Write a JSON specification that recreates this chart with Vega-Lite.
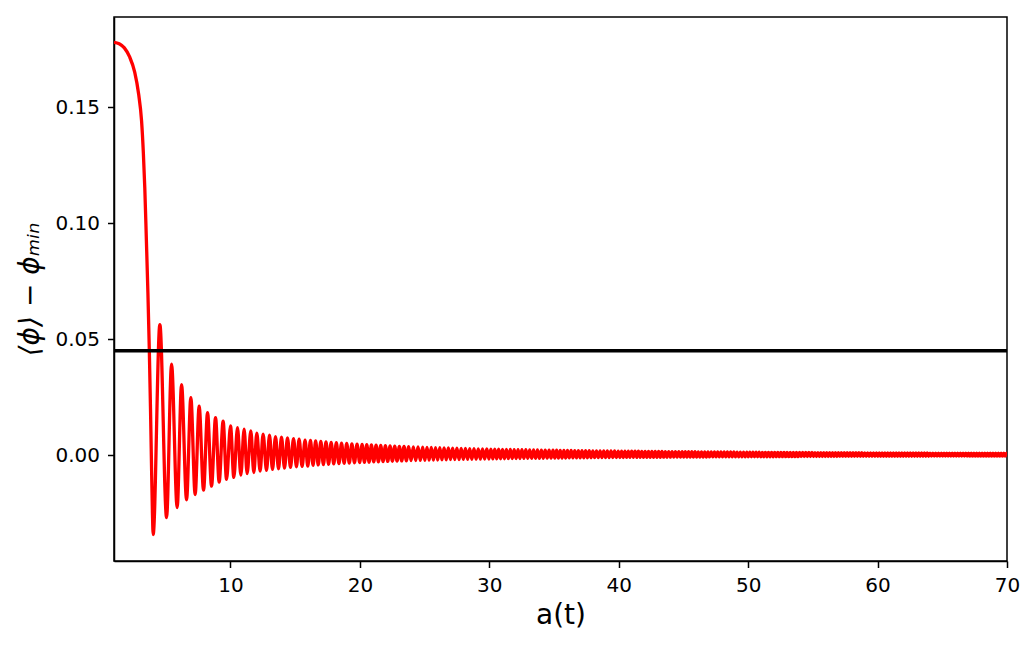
{
"$schema": "https://vega.github.io/schema/vega-lite/v6.json",
"width": 893, "height": 544,
"autosize": {"type": "none"},
"padding": {"left": 114, "top": 17, "right": 27, "bottom": 84},
"background": "white",
"config": {
  "font": "DejaVu Sans",
  "view": {"stroke": "black", "strokeWidth": 1.5},
  "axis": {"grid": false, "domainColor": "black", "domainWidth": 1.5, "tickColor": "black", "tickWidth": 1.5, "tickSize": 6.5,
           "labelColor": "black", "titleColor": "black", "labelFontSize": 20, "titleFontSize": 28, "titleFontWeight": "normal",
           "labelPadding": 8, "labelFlush": false, "labelOverlap": false, "labelFont": "DejaVu Sans", "titleFont": "DejaVu Sans"}
},
"layer": [
{
"data": {"values": [
{"a":1.0,"v":0.1779},{"a":1.4,"v":0.1773},{"a":1.8,"v":0.1755},{"a":2.2,"v":0.1717},{"a":2.6,"v":0.1650},{"a":2.9,"v":0.1557},
{"a":3.13,"v":0.1440},{"a":3.27,"v":0.130},{"a":3.38,"v":0.115},{"a":3.5,"v":0.093},{"a":3.62,"v":0.070},{"a":3.73,"v":0.045},
{"a":3.82,"v":0.020},{"a":3.9,"v":-0.005},{"a":3.97,"v":-0.025},
{"a":4.027,"v":-0.03418},{"a":4.544,"v":0.05629},{"a":5.062,"v":-0.02685},{"a":5.448,"v":0.03922},{"a":5.880,"v":-0.02254},
{"a":6.220,"v":0.03043},{"a":6.606,"v":-0.01922},{"a":6.938,"v":0.02483},{"a":7.270,"v":-0.01694},{"a":7.579,"v":0.02112},
{"a":7.919,"v":-0.01509},{"a":8.228,"v":0.01836},{"a":8.537,"v":-0.01336},{"a":8.846,"v":0.01621},{"a":9.124,"v":-0.01164},
{"a":9.432,"v":0.01466},{"a":9.695,"v":-0.01047},{"a":10.004,"v":0.01263},{"a":10.259,"v":-0.00961},{"a":10.544,"v":0.01190},
{"a":10.799,"v":-0.00862},{"a":11.054,"v":0.01121},{"a":11.286,"v":-0.00789},{"a":11.571,"v":0.01047},{"a":11.803,"v":-0.00746},
{"a":12.035,"v":0.00948},{"a":12.290,"v":-0.00690},{"a":12.521,"v":0.00905},{"a":12.784,"v":-0.00659},{"a":13.015,"v":0.00862},
{"a":13.247,"v":-0.00616},{"a":13.479,"v":0.00802},{"a":13.710,"v":-0.00586},{"a":13.942,"v":0.00776},{"a":14.174,"v":-0.00560},
{"a":14.405,"v":0.00746},{"a":14.637,"v":-0.00530},{"a":14.869,"v":0.00716},{"a":15.100,"v":-0.00500},{"a":15.301,"v":0.00690},
{"a":15.533,"v":-0.00487},{"a":15.764,"v":0.00647},{"a":15.973,"v":-0.00474},
{"a":16.18,"v":0.00632},{"a":16.38,"v":-0.00438},{"a":16.58,"v":0.00611},{"a":16.78,"v":-0.00422},{"a":16.98,"v":0.0059},
{"a":17.18,"v":-0.00407},{"a":17.38,"v":0.00572},{"a":17.58,"v":-0.00392},{"a":17.78,"v":0.00553},{"a":17.98,"v":-0.00378},
{"a":18.18,"v":0.00536},{"a":18.38,"v":-0.00365},{"a":18.58,"v":0.0052},{"a":18.78,"v":-0.00352},{"a":18.98,"v":0.00504},
{"a":19.18,"v":-0.0034},{"a":19.38,"v":0.00489},{"a":19.58,"v":-0.00328},{"a":19.78,"v":0.00475},{"a":19.98,"v":-0.00317},
{"a":20.17,"v":0.00462},{"a":20.35,"v":-0.00309},{"a":20.53,"v":0.0045},{"a":20.71,"v":-0.00301},{"a":20.89,"v":0.00439},
{"a":21.07,"v":-0.00292},{"a":21.25,"v":0.00429},{"a":21.43,"v":-0.00285},{"a":21.61,"v":0.00419},{"a":21.79,"v":-0.00277},
{"a":21.97,"v":0.00409},{"a":22.15,"v":-0.00269},{"a":22.33,"v":0.004},{"a":22.51,"v":-0.00262},{"a":22.69,"v":0.00391},
{"a":22.87,"v":-0.00255},{"a":23.05,"v":0.00382},{"a":23.23,"v":-0.00249},{"a":23.41,"v":0.00374},{"a":23.59,"v":-0.00243},
{"a":23.77,"v":0.00367},{"a":23.95,"v":-0.00237},{"a":24.13,"v":0.00359},{"a":24.31,"v":-0.00231},{"a":24.49,"v":0.00352},
{"a":24.67,"v":-0.00226},{"a":24.85,"v":0.00344},
{"a":25.02,"v":-0.00221},{"a":25.185,"v":0.00338},{"a":25.35,"v":-0.00216},{"a":25.515,"v":0.00332},{"a":25.68,"v":-0.00211},
{"a":25.845,"v":0.00326},{"a":26.01,"v":-0.00207},{"a":26.175,"v":0.0032},{"a":26.34,"v":-0.00203},{"a":26.505,"v":0.00314},
{"a":26.67,"v":-0.00198},{"a":26.835,"v":0.00309},{"a":27.0,"v":-0.00194},{"a":27.165,"v":0.00304},{"a":27.33,"v":-0.0019},
{"a":27.495,"v":0.00299},{"a":27.66,"v":-0.00187},{"a":27.825,"v":0.00294},{"a":27.99,"v":-0.00183},{"a":28.155,"v":0.00289},
{"a":28.32,"v":-0.0018},{"a":28.485,"v":0.00284},{"a":28.65,"v":-0.00177},{"a":28.815,"v":0.0028},{"a":28.98,"v":-0.00173},
{"a":29.145,"v":0.00275},{"a":29.31,"v":-0.0017},{"a":29.475,"v":0.00271},{"a":29.64,"v":-0.00167},{"a":29.805,"v":0.00267},
{"a":29.97,"v":-0.00164},
{"a":30.12,"v":0.00263},{"a":30.27,"v":-0.00162},{"a":30.42,"v":0.0026},{"a":30.57,"v":-0.00159},{"a":30.72,"v":0.00256},
{"a":30.87,"v":-0.00157},{"a":31.02,"v":0.00252},{"a":31.17,"v":-0.00154},{"a":31.32,"v":0.00249},{"a":31.47,"v":-0.00152},
{"a":31.62,"v":0.00245},{"a":31.77,"v":-0.00149},{"a":31.92,"v":0.00242},{"a":32.07,"v":-0.00147},{"a":32.22,"v":0.00239},
{"a":32.37,"v":-0.00144},{"a":32.52,"v":0.00236},{"a":32.67,"v":-0.00142},{"a":32.82,"v":0.00233},{"a":32.97,"v":-0.0014},
{"a":33.12,"v":0.0023},{"a":33.27,"v":-0.00138},{"a":33.42,"v":0.00227},{"a":33.57,"v":-0.00136},{"a":33.72,"v":0.00224},
{"a":33.87,"v":-0.00134},{"a":34.02,"v":0.00221},{"a":34.17,"v":-0.00132},{"a":34.32,"v":0.00218},{"a":34.47,"v":-0.0013},
{"a":34.62,"v":0.00216},{"a":34.77,"v":-0.00129},{"a":34.92,"v":0.00213},
{"a":35.06,"v":-0.00127},{"a":35.2,"v":0.00211},{"a":35.34,"v":-0.00125},{"a":35.48,"v":0.00209},{"a":35.62,"v":-0.00123},
{"a":35.76,"v":0.00207},{"a":35.9,"v":-0.00122},{"a":36.04,"v":0.00205},{"a":36.18,"v":-0.0012},{"a":36.32,"v":0.00202},
{"a":36.46,"v":-0.00119},{"a":36.6,"v":0.002},{"a":36.74,"v":-0.00117},{"a":36.88,"v":0.00198},{"a":37.02,"v":-0.00116},
{"a":37.16,"v":0.00196},{"a":37.3,"v":-0.00115},{"a":37.44,"v":0.00194},{"a":37.58,"v":-0.00113},{"a":37.72,"v":0.00191},
{"a":37.86,"v":-0.00112},{"a":38.0,"v":0.00189},{"a":38.14,"v":-0.0011},{"a":38.28,"v":0.00187},{"a":38.42,"v":-0.00109},
{"a":38.56,"v":0.00186},{"a":38.7,"v":-0.00107},{"a":38.84,"v":0.00184},{"a":38.98,"v":-0.00106},{"a":39.12,"v":0.00182},
{"a":39.26,"v":-0.00105},{"a":39.4,"v":0.00181},{"a":39.54,"v":-0.00103},{"a":39.68,"v":0.00179},{"a":39.82,"v":-0.00102},
{"a":39.96,"v":0.00177},
{"a":40.09,"v":-0.001},{"a":40.22,"v":0.00176},{"a":40.35,"v":-0.001},{"a":40.48,"v":0.00175},{"a":40.61,"v":-0.00099},
{"a":40.74,"v":0.00173},{"a":40.87,"v":-0.00098},{"a":41.0,"v":0.00172},{"a":41.13,"v":-0.00097},{"a":41.26,"v":0.0017},
{"a":41.39,"v":-0.00096},{"a":41.52,"v":0.00168},{"a":41.65,"v":-0.00095},{"a":41.78,"v":0.00167},{"a":41.91,"v":-0.00094},
{"a":42.04,"v":0.00165},{"a":42.17,"v":-0.00093},{"a":42.3,"v":0.00164},{"a":42.43,"v":-0.00092},{"a":42.56,"v":0.00162},
{"a":42.69,"v":-0.00091},{"a":42.82,"v":0.0016},{"a":42.95,"v":-0.0009},{"a":43.08,"v":0.00159},{"a":43.21,"v":-0.00089},
{"a":43.34,"v":0.00158},{"a":43.47,"v":-0.00088},{"a":43.6,"v":0.00157},{"a":43.73,"v":-0.00088},{"a":43.86,"v":0.00156},
{"a":43.99,"v":-0.00087},{"a":44.12,"v":0.00155},{"a":44.25,"v":-0.00086},{"a":44.38,"v":0.00154},{"a":44.51,"v":-0.00086},
{"a":44.64,"v":0.00153},{"a":44.77,"v":-0.00085},{"a":44.9,"v":0.00152},
{"a":45.02,"v":-0.00082},{"a":45.145,"v":0.00148},{"a":45.27,"v":-0.00082},{"a":45.395,"v":0.00148},{"a":45.52,"v":-0.00082},
{"a":45.645,"v":0.00148},{"a":45.77,"v":-0.00082},{"a":45.895,"v":0.00148},{"a":46.02,"v":-0.00079},{"a":46.145,"v":0.00144},
{"a":46.27,"v":-0.00079},{"a":46.395,"v":0.00144},{"a":46.52,"v":-0.00079},{"a":46.645,"v":0.00144},{"a":46.77,"v":-0.00079},
{"a":46.895,"v":0.00144},{"a":47.02,"v":-0.00077},{"a":47.145,"v":0.0014},{"a":47.27,"v":-0.00077},{"a":47.395,"v":0.0014},
{"a":47.52,"v":-0.00077},{"a":47.645,"v":0.0014},{"a":47.77,"v":-0.00077},{"a":47.895,"v":0.0014},{"a":48.02,"v":-0.00074},
{"a":48.145,"v":0.00136},{"a":48.27,"v":-0.00074},{"a":48.395,"v":0.00136},{"a":48.52,"v":-0.00074},{"a":48.645,"v":0.00136},
{"a":48.77,"v":-0.00074},{"a":48.895,"v":0.00136},{"a":49.02,"v":-0.00071},{"a":49.145,"v":0.00131},{"a":49.27,"v":-0.00071},
{"a":49.395,"v":0.00131},{"a":49.52,"v":-0.00071},{"a":49.645,"v":0.00131},{"a":49.77,"v":-0.00071},{"a":49.895,"v":0.00131},
{"a":50.01,"v":-0.00069},{"a":50.13,"v":0.00128},{"a":50.25,"v":-0.00069},{"a":50.37,"v":0.00128},{"a":50.49,"v":-0.00069},
{"a":50.61,"v":0.00128},{"a":50.73,"v":-0.00069},{"a":50.85,"v":0.00128},{"a":50.97,"v":-0.00069},{"a":51.09,"v":0.00124},
{"a":51.21,"v":-0.00067},{"a":51.33,"v":0.00124},{"a":51.45,"v":-0.00067},{"a":51.57,"v":0.00124},{"a":51.69,"v":-0.00067},
{"a":51.81,"v":0.00124},{"a":51.93,"v":-0.00067},{"a":52.05,"v":0.00121},{"a":52.17,"v":-0.00065},{"a":52.29,"v":0.00121},
{"a":52.41,"v":-0.00065},{"a":52.53,"v":0.00121},{"a":52.65,"v":-0.00065},{"a":52.77,"v":0.00121},{"a":52.89,"v":-0.00065},
{"a":53.01,"v":0.00118},{"a":53.13,"v":-0.00063},{"a":53.25,"v":0.00118},{"a":53.37,"v":-0.00063},{"a":53.49,"v":0.00118},
{"a":53.61,"v":-0.00063},{"a":53.73,"v":0.00118},{"a":53.85,"v":-0.00063},{"a":53.97,"v":0.00118},{"a":54.09,"v":-0.00061},
{"a":54.21,"v":0.00115},{"a":54.33,"v":-0.00061},{"a":54.45,"v":0.00115},{"a":54.57,"v":-0.00061},{"a":54.69,"v":0.00115},
{"a":54.81,"v":-0.00061},{"a":54.93,"v":0.00115},
{"a":55.05,"v":-0.00059},{"a":55.163,"v":0.00113},{"a":55.276,"v":-0.00059},{"a":55.389,"v":0.00113},{"a":55.502,"v":-0.00059},
{"a":55.615,"v":0.00113},{"a":55.728,"v":-0.00059},{"a":55.841,"v":0.00113},{"a":55.954,"v":-0.00059},{"a":56.067,"v":0.0011},
{"a":56.18,"v":-0.00057},{"a":56.293,"v":0.0011},{"a":56.406,"v":-0.00057},{"a":56.519,"v":0.0011},{"a":56.632,"v":-0.00057},
{"a":56.745,"v":0.0011},{"a":56.858,"v":-0.00057},{"a":56.971,"v":0.0011},{"a":57.084,"v":-0.00056},{"a":57.197,"v":0.00108},
{"a":57.31,"v":-0.00056},{"a":57.423,"v":0.00108},{"a":57.536,"v":-0.00056},{"a":57.649,"v":0.00108},{"a":57.762,"v":-0.00056},
{"a":57.875,"v":0.00108},{"a":57.988,"v":-0.00056},{"a":58.101,"v":0.00105},{"a":58.214,"v":-0.00054},{"a":58.327,"v":0.00105},
{"a":58.44,"v":-0.00054},{"a":58.553,"v":0.00105},{"a":58.666,"v":-0.00054},{"a":58.779,"v":0.00105},{"a":58.892,"v":-0.00054},
{"a":59.005,"v":0.00103},{"a":59.118,"v":-0.00052},{"a":59.231,"v":0.00103},{"a":59.344,"v":-0.00052},{"a":59.457,"v":0.00103},
{"a":59.57,"v":-0.00052},{"a":59.683,"v":0.00103},{"a":59.796,"v":-0.00052},{"a":59.909,"v":0.00103},
{"a":60.02,"v":-0.00051},{"a":60.129,"v":0.00101},{"a":60.238,"v":-0.00051},{"a":60.347,"v":0.00101},{"a":60.456,"v":-0.00051},
{"a":60.565,"v":0.00101},{"a":60.674,"v":-0.00051},{"a":60.783,"v":0.00101},{"a":60.892,"v":-0.00051},{"a":61.001,"v":0.00099},
{"a":61.11,"v":-0.0005},{"a":61.219,"v":0.00099},{"a":61.328,"v":-0.0005},{"a":61.437,"v":0.00099},{"a":61.546,"v":-0.0005},
{"a":61.655,"v":0.00099},{"a":61.764,"v":-0.0005},{"a":61.873,"v":0.00099},{"a":61.982,"v":-0.0005},{"a":62.091,"v":0.00096},
{"a":62.2,"v":-0.00048},{"a":62.309,"v":0.00096},{"a":62.418,"v":-0.00048},{"a":62.527,"v":0.00096},{"a":62.636,"v":-0.00048},
{"a":62.745,"v":0.00096},{"a":62.854,"v":-0.00048},{"a":62.963,"v":0.00096},{"a":63.072,"v":-0.00047},{"a":63.181,"v":0.00094},
{"a":63.29,"v":-0.00047},{"a":63.399,"v":0.00094},{"a":63.508,"v":-0.00047},{"a":63.617,"v":0.00094},{"a":63.726,"v":-0.00047},
{"a":63.835,"v":0.00094},{"a":63.944,"v":-0.00047},{"a":64.053,"v":0.00092},{"a":64.162,"v":-0.00045},{"a":64.271,"v":0.00092},
{"a":64.38,"v":-0.00045},{"a":64.489,"v":0.00092},{"a":64.598,"v":-0.00045},{"a":64.707,"v":0.00092},{"a":64.816,"v":-0.00045},
{"a":64.925,"v":0.00092},
{"a":65.03,"v":-0.00044},{"a":65.135,"v":0.0009},{"a":65.24,"v":-0.00044},{"a":65.345,"v":0.0009},{"a":65.45,"v":-0.00044},
{"a":65.555,"v":0.0009},{"a":65.66,"v":-0.00044},{"a":65.765,"v":0.0009},{"a":65.87,"v":-0.00044},{"a":65.975,"v":0.0009},
{"a":66.08,"v":-0.00043},{"a":66.185,"v":0.00088},{"a":66.29,"v":-0.00043},{"a":66.395,"v":0.00088},{"a":66.5,"v":-0.00043},
{"a":66.605,"v":0.00088},{"a":66.71,"v":-0.00043},{"a":66.815,"v":0.00088},{"a":66.92,"v":-0.00043},{"a":67.025,"v":0.00086},
{"a":67.13,"v":-0.00042},{"a":67.235,"v":0.00086},{"a":67.34,"v":-0.00042},{"a":67.445,"v":0.00086},{"a":67.55,"v":-0.00042},
{"a":67.655,"v":0.00086},{"a":67.76,"v":-0.00042},{"a":67.865,"v":0.00086},{"a":67.97,"v":-0.00042},{"a":68.075,"v":0.00084},
{"a":68.18,"v":-0.00041},{"a":68.285,"v":0.00084},{"a":68.39,"v":-0.00041},{"a":68.495,"v":0.00084},{"a":68.6,"v":-0.00041},
{"a":68.705,"v":0.00084},{"a":68.81,"v":-0.00041},{"a":68.915,"v":0.00084},{"a":69.02,"v":-0.0004},{"a":69.125,"v":0.00082},
{"a":69.23,"v":-0.0004},{"a":69.335,"v":0.00082},{"a":69.44,"v":-0.0004},{"a":69.545,"v":0.00082},{"a":69.65,"v":-0.0004},
{"a":69.755,"v":0.00082},{"a":69.86,"v":-0.0004},{"a":69.965,"v":0.00082},{"a":70.07,"v":-0.00039}
]},
"mark": {"type": "line", "color": "#ff0000", "strokeWidth": 3.3, "interpolate": "monotone", "clip": true},
"encoding": {
  "x": {"field": "a", "type": "quantitative", "scale": {"domain": [1, 70], "nice": false, "zero": false},
        "axis": {"title": "a(t)", "values": [10, 20, 30, 40, 50, 60, 70], "format": "d", "titlePadding": 6}},
  "y": {"field": "v", "type": "quantitative", "title": "⟨ϕ⟩ − ϕₘᵢₙ", "scale": {"domain": [-0.0456, 0.1888], "nice": false, "zero": false},
        "axis": {"values": [0, 0.05, 0.1, 0.15], "format": ".2f", "titlePadding": 10, "titleFontStyle": "italic"}}
}
},
{
"data": {"values": [{"level": 0.045}]},
"mark": {"type": "rule", "color": "#000000", "strokeWidth": 3.3},
"encoding": {"y": {"field": "level", "type": "quantitative", "title": "⟨ϕ⟩ − ϕₘᵢₙ"}}
}
]
}
